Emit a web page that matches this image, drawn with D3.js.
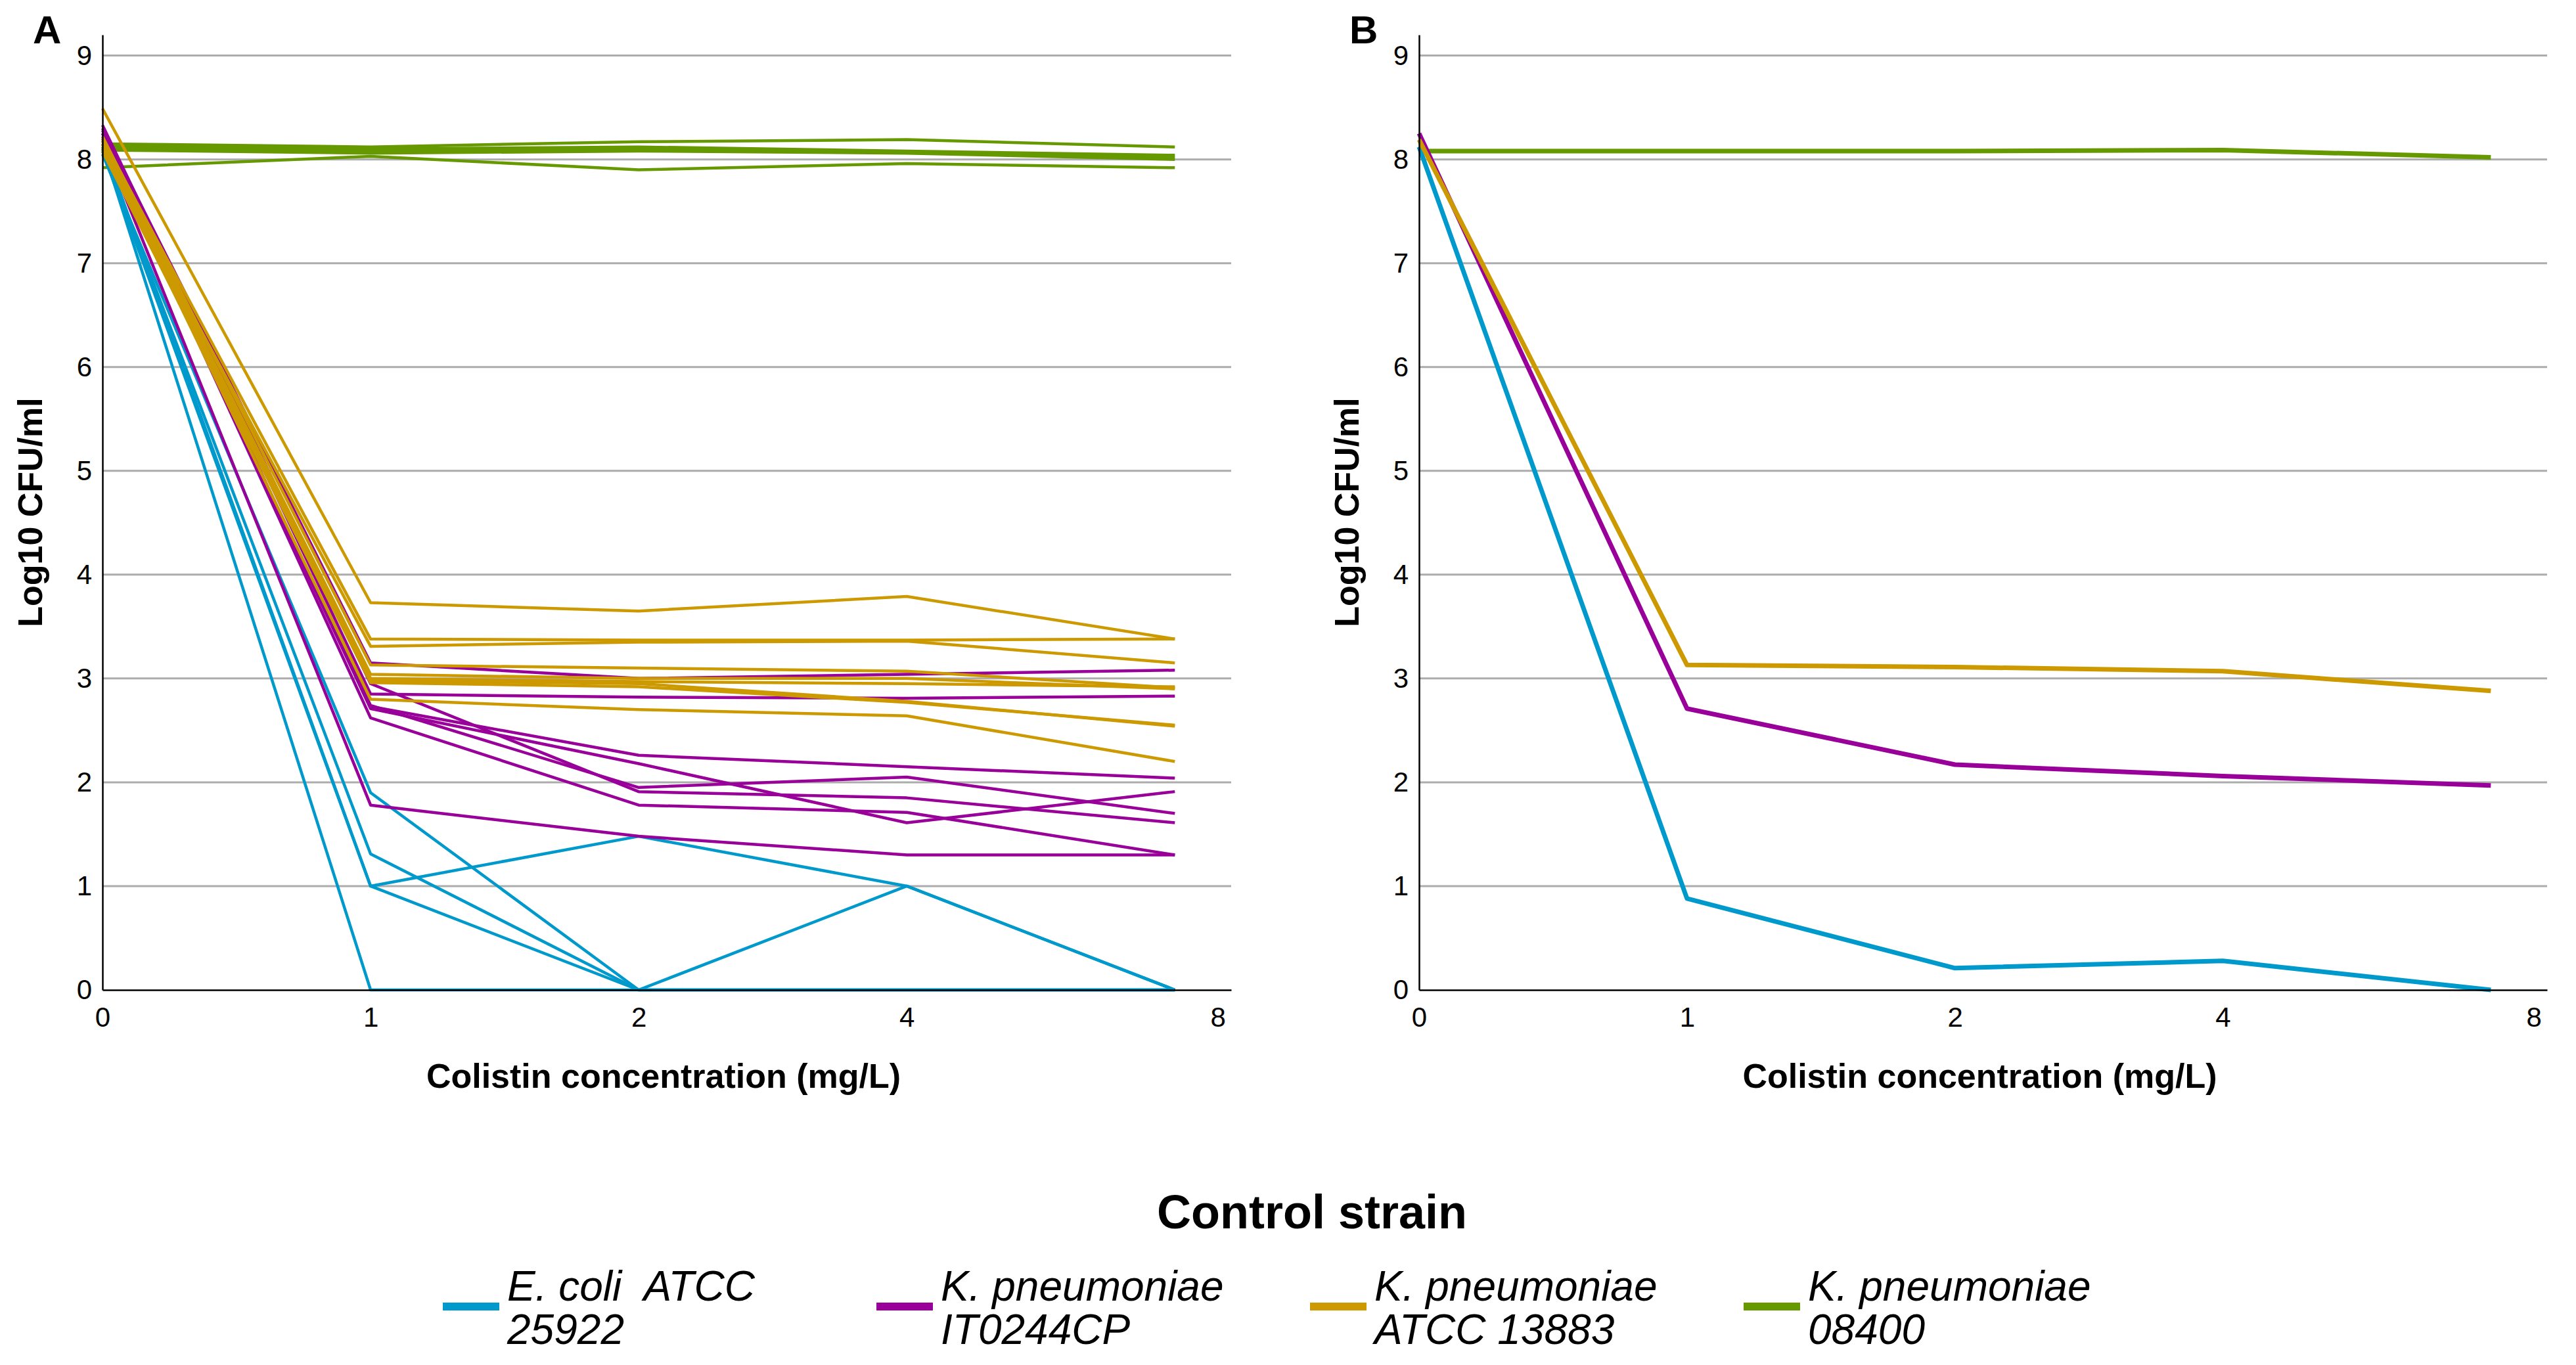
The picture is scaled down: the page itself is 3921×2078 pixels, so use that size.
<!DOCTYPE html>
<html>
<head>
<meta charset="utf-8">
<script src="https://cdn.jsdelivr.net/npm/d3@7"></script>
<style>
  body { margin: 0; background: #fff; }
  svg { display: block; font-family: "Liberation Sans", Arial, sans-serif; }
  .legend-text { white-space: pre; }
</style>
</head>
<body>
<svg id="chart" width="3921" height="2078"></svg>
<script>
// x categories (colistin mg/L) and where their labels sit on the index scale
var concentrations = ["0", "1", "2", "4", "8"];
var tickIndex = [0, 1, 2, 3, 4.16];
var yTicks = [0, 1, 2, 3, 4, 5, 6, 7, 8, 9];

var strainNames = ["E. coli ATCC 25922", "K. pneumoniae IT0244CP", "K. pneumoniae ATCC 13883", "K. pneumoniae 08400"];
var legendLine1 = ["E. coli  ATCC", "K. pneumoniae", "K. pneumoniae", "K. pneumoniae"];
var legendLine2 = ["25922", "IT0244CP", "ATCC 13883", "08400"];
var strainColors = ["#0099cc", "#990099", "#cc9900", "#669900"];

// Panel A: each replicate, log10 CFU/ml at 0,1,2,4,8 mg/L
var aEcoli = [
    [8.12, 0.00, 0.00, 0.00, 0.00],
    [8.05, 1.90, 0.00, 0.00, 0.00],
    [8.10, 1.31, 0.00, 1.00, 0.00],
    [8.08, 1.00, 0.00, 0.00, 0.00],
    [8.15, 1.00, 1.48, 1.00, 0.00]
];
var aKpIT = [
    [8.30, 3.15, 3.00, 3.04, 3.08],
    [8.28, 2.85, 2.82, 2.81, 2.83],
    [8.25, 2.73, 2.26, 2.15, 2.04],
    [8.22, 2.71, 2.18, 1.61, 1.91],
    [8.20, 2.74, 1.95, 2.05, 1.70],
    [8.33, 2.95, 1.91, 1.85, 1.61],
    [8.18, 1.78, 1.48, 1.30, 1.30],
    [8.25, 2.62, 1.78, 1.71, 1.30]
];
var aKpATCC = [
    [8.49, 3.73, 3.65, 3.79, 3.38],
    [8.20, 3.38, 3.37, 3.37, 3.38],
    [8.12, 3.31, 3.35, 3.36, 3.15],
    [8.22, 3.13, 3.10, 3.07, 2.91],
    [8.18, 3.04, 3.00, 3.00, 2.90],
    [8.15, 3.00, 2.97, 2.95, 2.92],
    [8.10, 2.98, 2.95, 2.78, 2.54],
    [8.08, 2.96, 2.92, 2.77, 2.55],
    [8.14, 2.80, 2.70, 2.64, 2.20]
];
var aKp08400 = [
    [7.92, 8.03, 7.90, 7.96, 7.92],
    [8.15, 8.12, 8.17, 8.19, 8.12],
    [8.13, 8.10, 8.12, 8.08, 8.04],
    [8.09, 8.06, 8.08, 8.06, 8.00],
    [8.11, 8.08, 8.10, 8.07, 8.02]
];

// Panel B: mean per strain
var bEcoli = [[8.12, 0.88, 0.21, 0.28, 0.00]];
var bKpIT = [[8.25, 2.71, 2.17, 2.06, 1.97]];
var bKpATCC = [[8.19, 3.13, 3.11, 3.07, 2.88]];
var bKp08400 = [[8.08, 8.08, 8.08, 8.09, 8.02]];

var svg = d3.select('#chart');
var yTop = 53, yBottom = 1507;

var y = d3.scaleLinear().domain([0, 9.2]).range([yBottom, yTop]);

// strain order = drawing order index into colours (green drawn first)
var drawOrder = [3, 0, 1, 2];

function drawPanel(left, right, letter, series, lineWidth) {
    var x = d3.scaleLinear().domain([0, 4.21]).range([left, right]);
    var g = svg.append('g');

    // grid
    g.selectAll('.grid')
        .data(yTicks.filter(d => d > 0))
        .join('line')
        .attr('x1', left).attr('x2', right)
        .attr('y1', d => y(d)).attr('y2', d => y(d))
        .attr('stroke', '#acacac')
        .attr('stroke-width', 3);

    var line = d3.line()
        .x((d, i) => x(i))
        .y(d => y(d));

    drawOrder.forEach(function(s) {
        g.append('g')
            .selectAll('path')
            .data(series[s])
            .join('path')
            .attr('d', line)
            .attr('fill', 'none')
            .attr('stroke', strainColors[s])
            .attr('stroke-width', lineWidth)
            .attr('stroke-linejoin', 'round');
    });

    var yAxis = g.append('g')
        .attr('transform', `translate(${left},0)`)
        .call(d3.axisLeft(y).tickValues(yTicks).tickSize(0).tickSizeOuter(0).tickPadding(16).tickFormat(d3.format('d')));
    var xAxis = g.append('g')
        .attr('transform', `translate(0,${yBottom})`)
        .call(d3.axisBottom(x).tickValues(tickIndex).tickSize(0).tickSizeOuter(0).tickPadding(26)
            .tickFormat((d, i) => concentrations[i]));

    [yAxis, xAxis].forEach(function(ax) {
        ax.select('.domain').attr('stroke', '#000').attr('stroke-width', 2.5);
        ax.selectAll('text')
            .attr('fill', '#000')
            .style('font-size', '42px')
            .style('font-family', '"Liberation Sans", Arial, sans-serif');
    });

    g.append('text')
        .attr('x', (left + right) / 2 - 5)
        .attr('y', 1656)
        .attr('text-anchor', 'middle')
        .style('font-size', '52px')
        .style('font-weight', 'bold')
        .text('Colistin concentration (mg/L)');

    g.append('text')
        .attr('transform', `translate(${left - 92},${(yTop + yBottom) / 2}) rotate(-90)`)
        .attr('text-anchor', 'middle')
        .style('font-size', '52px')
        .style('font-weight', 'bold')
        .text('Log10 CFU/ml');

    g.append('text')
        .attr('x', left - 106)
        .attr('y', 66)
        .style('font-size', '60px')
        .style('font-weight', 'bold')
        .text(letter);
}

drawPanel(156, 1874, 'A', [aEcoli, aKpIT, aKpATCC, aKp08400], 4.5);
drawPanel(2160, 3877, 'B', [bEcoli, bKpIT, bKpATCC, bKp08400], 7);

// legend
svg.append('text')
    .attr('x', 1997)
    .attr('y', 1870)
    .attr('text-anchor', 'middle')
    .style('font-size', '72px')
    .style('font-weight', 'bold')
    .text('Control strain');

var legendX = d3.scaleLinear().domain([0, 1]).range([674, 1334]);

var items = svg.selectAll('.legend-item')
    .data(strainNames)
    .join('g')
    .attr('class', 'legend-item')
    .attr('transform', (d, i) => `translate(${legendX(i)},0)`);

items.append('rect')
    .attr('x', 0).attr('y', 1983)
    .attr('width', 86).attr('height', 12)
    .attr('fill', (d, i) => strainColors[i]);

items.append('text')
    .attr('class', 'legend-text')
    .attr('x', 98).attr('y', 1980)
    .style('font-size', '64px')
    .style('font-style', 'italic')
    .text((d, i) => legendLine1[i]);

items.append('text')
    .attr('class', 'legend-text')
    .attr('x', 98).attr('y', 2046)
    .style('font-size', '64px')
    .style('font-style', 'italic')
    .text((d, i) => legendLine2[i]);
</script>
</body>
</html>
